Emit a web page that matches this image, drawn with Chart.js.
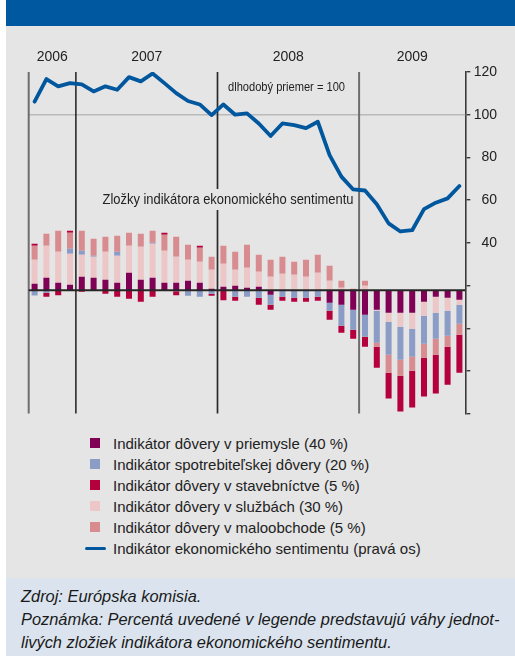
<!DOCTYPE html>
<html>
<head>
<meta charset="utf-8">
<script src="https://cdn.jsdelivr.net/npm/chart.js@4.4.1/dist/chart.umd.min.js"></script>
<style>
  body { margin: 0; background: #fff; }
  #wrap { position: relative; width: 515px; height: 656px; overflow: hidden; font-family: "Liberation Sans", Arial, sans-serif; color: #222; }
  #band { position: absolute; left: 6px; top: 0; width: 509px; height: 26px; background: #0059a0; }
  #panel { position: absolute; left: 6px; top: 26px; width: 509px; height: 552px; background: #e5e5e5; }
  #note { position: absolute; left: 6px; top: 578px; width: 509px; height: 78px; background: #dbe4ee; }
  #chart { position: absolute; left: 0; top: 0; }
  .sw { position: absolute; left: 90px; width: 10px; height: 10px; }
  .ln { position: absolute; left: 85px; width: 21px; height: 3.5px; border-radius: 2px; }
  .lt { position: absolute; left: 113px; font-size: 15px; line-height: 21px; white-space: nowrap; color: #222; }
  .nt { position: absolute; left: 21px; font-size: 16.4px; line-height: 23px; font-style: italic; white-space: nowrap; color: #1a1a1a; }
</style>
</head>
<body>
<div id="wrap">
  <div id="band"></div>
  <div id="panel"></div>
  <div id="note"></div>
  <canvas id="chart" width="515" height="430"></canvas>
  <div id="legend"></div>
  <div class="nt" style="top:585px">Zdroj: Európska komisia.</div>
  <div class="nt" style="top:608px">Poznámka: Percentá uvedené v legende predstavujú váhy jednot-</div>
  <div class="nt" style="top:631px">livých zložiek indikátora ekonomického sentimentu.</div>
</div>
<script>
// mesiace IX/2006 - IX/2009
const months = [
  '2006-09','2006-10','2006-11','2006-12',
  '2007-01','2007-02','2007-03','2007-04','2007-05','2007-06','2007-07','2007-08','2007-09','2007-10','2007-11','2007-12',
  '2008-01','2008-02','2008-03','2008-04','2008-05','2008-06','2008-07','2008-08','2008-09','2008-10','2008-11','2008-12',
  '2009-01','2009-02','2009-03','2009-04','2009-05','2009-06','2009-07','2009-08','2009-09'
];
const years = ['2006', '2007', '2008', '2009'];

// indikátor ekonomického sentimentu (pravá os)
const esi = [
  106.1, 116.7, 113.3, 114.8,
  114.2, 110.9, 113.3, 111.7, 117.6, 115.6, 119.3, 114.8, 110.1, 106.4, 104.8, 99.8,
  104.8, 100.0, 100.6, 95.9, 90.0, 95.9, 95.1, 93.7, 96.7, 81.1, 71.0, 65.0,
  64.5, 58.1, 49.1, 45.3, 45.9, 55.8, 58.8, 60.8, 66.6
];

// zložky (príspevky)
const industry = [
  3.2, 6.2, 3.7, 2.7,
  6.7, 6.2, 5.2, 3.7, 8.7, 5.2, 6.2, 3.7, 3.7, 4.7, 3.7, 0.7,
  1.7, 2.2, 1.2, 1.7, -2.3, 0, 0, 0, 0, -6.3, -7.3, -9.8,
  -12.3, -9.8, -11.3, -11.3, -11.3, -5.8, -3.3, -3.8, -4.8
];
const consumer = [
  -2.7, -1.3, 0, 2.5,
  2, 0.5, 0, 2, 0, 0, 0.5, 0, -0.5, -2.8, -3.3, -1.8,
  0, -3.3, -3.3, -3.8, -5, -3.3, -3.8, -3.8, -3.3, -4, -10.5, -10,
  -11, -16, -16.5, -16.5, -14, -14, -13, -12.5, -9.5
];
const construction = [
  1, -2, -2.5, 1,
  -0.8, 0, -1.8, -3.3, -4.3, -5.8, -3.3, 1, -2, 0, 1, -1,
  -5, -2, 0, -3.5, -2.5, -2, -2, -2, -2, -4.5, -3.5, -4.5,
  -5, -10.5, -13, -18, -18.5, -19.5, -19.5, -19, -19
];
const services = [
  12, 16, 15.5, 15.5,
  11, 10.5, 14, 13.5, 13.5, 16.5, 17, 16, 13, 10.5, 10.5, 9.5,
  11.5, 8, 10, 7.5, 6.7, 8.2, 7.7, 6.7, 8.7, 4.7, 1.2, 0,
  2.2, -0.5, -4.5, -7, -8, -7, -8, -6.5, -2.5
];
const retail = [
  7, 6, 10.5, 8,
  10, 8.5, 7.5, 8, 6.5, 6.5, 6, 8, 10, 7.5, 7, 6.5,
  9, 9, 11.5, 8.5, 8.5, 8.5, 6.5, 8.5, 9, 7.5, 3.5, 0.7,
  2.5, -2, -9, -8, -7, -7, -8, -5.5, -5.5
];

const refLevel = 100;

// poradie v stĺpci: priemysel, služby, spotrebitelia, maloobchod, stavebníctvo
const barSeries = [
  { label: 'Indikátor dôvery v priemysle (40 %)', data: industry, color: '#7f0055', legend: 0 },
  { label: 'Indikátor dôvery v službách (30 %)', data: services, color: '#edc7c7', legend: 3 },
  { label: 'Indikátor spotrebiteľskej dôvery (20 %)', data: consumer, color: '#8b9dc6', legend: 1 },
  { label: 'Indikátor dôvery v maloobchode (5 %)', data: retail, color: '#d98c8f', legend: 4 },
  { label: 'Indikátor dôvery v stavebníctve (5 %)', data: construction, color: '#b4003c', legend: 2 }
];
const lineLabel = 'Indikátor ekonomického sentimentu (pravá os)';
const lineColor = '#00579e';

const FONT = '"Liberation Sans", Arial, sans-serif';

function vline(ctx, x, y0, y1) {
  ctx.beginPath(); ctx.moveTo(x, y0); ctx.lineTo(x, y1); ctx.stroke();
}
function hline(ctx, x0, x1, y) {
  ctx.beginPath(); ctx.moveTo(x0, y); ctx.lineTo(x1, y); ctx.stroke();
}

const overlay = {
  id: 'overlay',
  beforeDatasetsDraw(chart) {
    const { ctx, chartArea: a, scales } = chart;
    const x = scales.x, y1 = scales.y1;
    ctx.save();

    // dlhodobý priemer
    const y100 = y1.getPixelForValue(refLevel);
    ctx.strokeStyle = '#bababa';
    ctx.lineWidth = 1.5;
    hline(ctx, a.left, a.right, y100);

    // deliace čiary rokov
    const half = (x.getPixelForValue(1) - x.getPixelForValue(0)) / 2;
    const seps = [a.left];
    months.forEach((m, i) => { if (m.endsWith('-01')) seps.push(x.getPixelForValue(i) - half); });
    const sepColors = ['#6e6e6e', '#111', '#2a2a2a', '#6e6e6e'];
    const sepWidths = [2, 1.4, 1.7, 2];
    seps.forEach((sx, i) => {
      ctx.strokeStyle = sepColors[i];
      ctx.lineWidth = sepWidths[i];
      vline(ctx, sx, a.top, a.bottom);
    });

    // roky
    const bounds = seps.concat([a.right]);
    ctx.fillStyle = '#222';
    ctx.font = '14px ' + FONT;
    ctx.textAlign = 'center';
    ctx.textBaseline = 'middle';
    years.forEach((yr, i) => ctx.fillText(yr, (bounds[i] + bounds[i + 1]) / 2, 57));

    // popisky
    ctx.font = '12px ' + FONT;
    ctx.fillText('dlhodobý priemer = 100', 286.5, 88, 117);

    ctx.fillStyle = '#e5e5e5';
    ctx.fillRect(100, 189, 256, 21);
    ctx.fillStyle = '#222';
    ctx.font = '15px ' + FONT;
    ctx.fillText('Zložky indikátora ekonomického sentimentu', 228, 199.5, 251);
    ctx.restore();
  },
  afterDatasetsDraw(chart) {
    const { ctx, chartArea: a, scales } = chart;
    const y0 = scales.y.getPixelForValue(0);
    ctx.save();
    ctx.strokeStyle = '#262626';
    ctx.lineWidth = 2;
    hline(ctx, a.left, a.right, y0);
    ctx.restore();
  }
};

const datasets = [{
  type: 'line',
  label: lineLabel,
  data: esi,
  yAxisID: 'y1',
  borderColor: lineColor,
  borderWidth: 3.8,
  pointRadius: 0,
  tension: 0,
  borderJoinStyle: 'round',
  borderCapStyle: 'round',
  order: 0
}].concat(barSeries.map(s => ({
  type: 'bar',
  label: s.label,
  data: s.data,
  yAxisID: 'y',
  backgroundColor: s.color,
  borderWidth: 0,
  barPercentage: 0.51,
  categoryPercentage: 1,
  order: 1
})));

new Chart(document.getElementById('chart'), {
  data: { labels: months, datasets: datasets },
  options: {
    responsive: false,
    animation: false,
    events: [],
    layout: { padding: { left: 28.7, top: 72, right: 18, bottom: 16.4 } },
    plugins: { legend: { display: false }, tooltip: { enabled: false } },
    scales: {
      x: { display: false, stacked: true, offset: true },
      y: { display: false, stacked: true, min: -61.8, max: 109.2 },
      y1: {
        position: 'right',
        min: -40, max: 120,
        afterFit: s => { s.width = 31.7; },
        border: { display: true, color: '#3a3a3a', width: 1.6 },
        grid: { drawOnChartArea: false, drawTicks: true, tickLength: 5, color: '#3a3a3a', lineWidth: 1.4 },
        ticks: {
          stepSize: 20,
          padding: 3,
          crossAlign: 'far',
          color: '#222',
          font: { family: FONT, size: 14 },
          callback: v => (v >= 40 ? v : '')
        }
      }
    }
  },
  plugins: [overlay]
});

// legenda
const legend = document.getElementById('legend');
const rows = barSeries.slice().sort((p, q) => p.legend - q.legend);
rows.forEach((s, i) => {
  const cy = 443.3 + 21 * i;
  legend.insertAdjacentHTML('beforeend',
    `<div class="sw" style="top:${cy - 5}px;background:${s.color}"></div>` +
    `<div class="lt" style="top:${cy - 10.5}px">${s.label}</div>`);
});
const cyLine = 443.3 + 21 * rows.length;
legend.insertAdjacentHTML('beforeend',
  `<div class="ln" style="top:${cyLine - 1.75}px;background:${lineColor}"></div>` +
  `<div class="lt" style="top:${cyLine - 10.5}px">${lineLabel}</div>`);
</script>
</body>
</html>
